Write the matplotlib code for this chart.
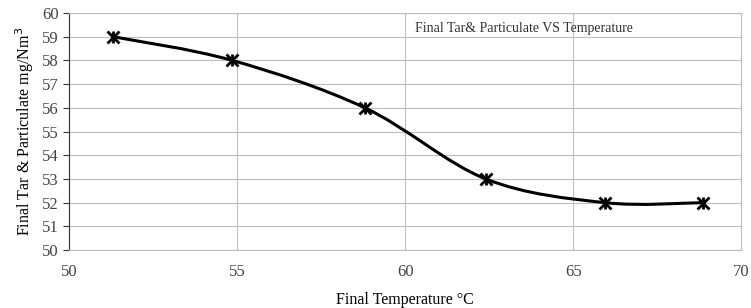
import numpy as np
import matplotlib.pyplot as plt
from matplotlib.path import Path
from matplotlib.patches import PathPatch

plt.rcParams['font.family'] = ['Liberation Serif', 'DejaVu Serif']

# data
temperature = [51.3, 54.85, 58.8, 62.4, 65.95, 68.85]
tar_particulate = [59, 58, 56, 53, 52, 52]
x_ticks = [50, 55, 60, 65, 70]
y_ticks = list(range(50, 61))


def smooth_path(xs, ys):
    # Excel style smoothed line: Catmull-Rom as cubic Bezier segments
    pts = np.column_stack([xs, ys])
    verts = [pts[0]]
    codes = [Path.MOVETO]
    n = len(pts)
    for i in range(n - 1):
        p0 = pts[i - 1] if i > 0 else pts[i]
        p1 = pts[i]
        p2 = pts[i + 1]
        p3 = pts[i + 2] if i + 2 < n else pts[i + 1]
        c1 = p1 + (p2 - p0) / 6.0
        c2 = p2 - (p3 - p1) / 6.0
        verts += [c1, c2, p2]
        codes += [Path.CURVE4] * 3
    return Path(verts, codes)


fig = plt.figure(figsize=(7.51, 3.08), dpi=100)
ax = fig.add_axes([0.092, 0.188, 0.895, 0.770])

ax.add_patch(PathPatch(smooth_path(temperature, tar_particulate),
                       facecolor='none', edgecolor='black', lw=2.2, zorder=3))
ax.plot(temperature, tar_particulate, 'x', color='black', ms=8, mew=2, zorder=4)
ax.plot(temperature, tar_particulate, '|', color='black', ms=9, mew=2, zorder=4)

ax.set_xlim(50, 70)
ax.set_ylim(50, 60)
ax.set_xticks(x_ticks)
ax.set_yticks(y_ticks)
ax.grid(True, color='#bdbdbd', lw=0.8)
ax.set_axisbelow(True)

for s in ['top', 'right', 'bottom']:
    ax.spines[s].set_color('#bdbdbd')
ax.spines['left'].set_color('#333333')
ax.tick_params(axis='y', length=4, color='#333333', labelsize=12, colors='#444444')
ax.tick_params(axis='x', length=0, pad=10, labelsize=12, colors='#444444')

ax.set_xlabel('Final Temperature °C', fontsize=11.5, labelpad=9)
ax.set_ylabel('Final Tar & Particulate mg/Nm$^3$', fontsize=11.5, labelpad=4)
ax.text(0.515, 0.96, 'Final Tar& Particulate VS Temperature', transform=ax.transAxes,
        fontsize=10, color='#333333', va='top', ha='left')

plt.savefig('out.png', dpi=100)
plt.close()
